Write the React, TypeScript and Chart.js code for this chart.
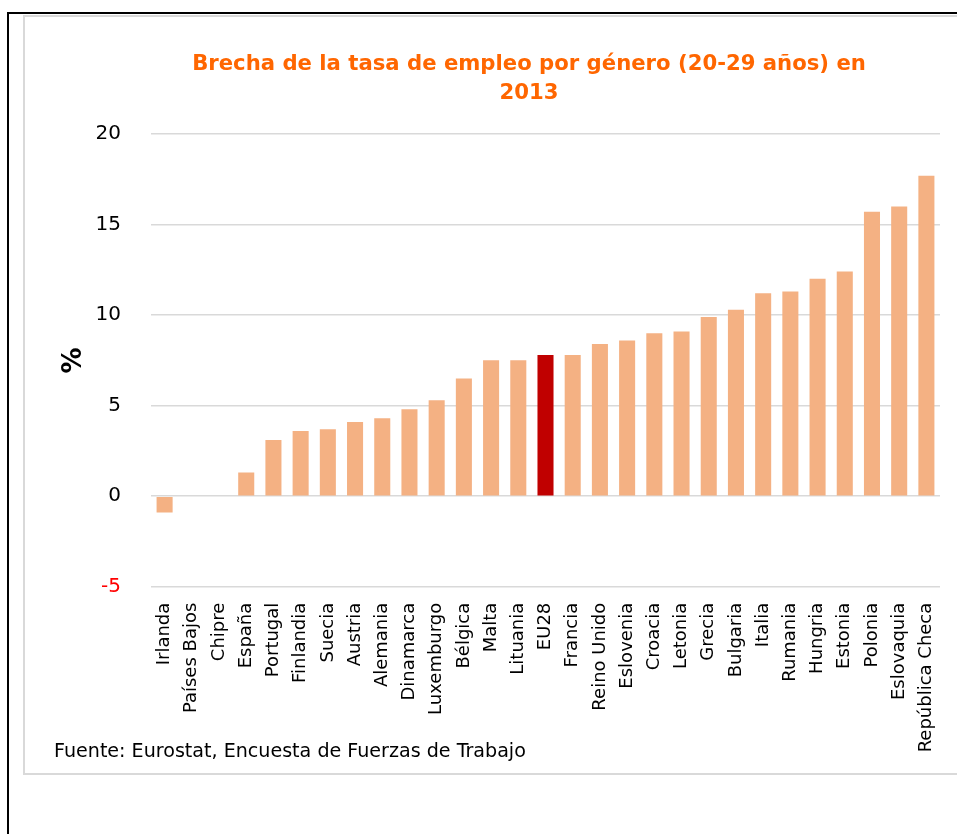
import React, { useEffect, useRef } from "react";
import { Chart, registerables } from "chart.js";

Chart.register(...registerables);

const categories = [
  "Irlanda", "Países Bajos", "Chipre", "España", "Portugal", "Finlandia", "Suecia",
  "Austria", "Alemania", "Dinamarca", "Luxemburgo", "Bélgica", "Malta", "Lituania",
  "EU28", "Francia", "Reino Unido", "Eslovenia", "Croacia", "Letonia", "Grecia",
  "Bulgaria", "Italia", "Rumania", "Hungria", "Estonia", "Polonia", "Eslovaquia",
  "República Checa",
];
const values = [
  -0.9, 0, 0, 1.3, 3.1, 3.6, 3.7,
  4.1, 4.3, 4.8, 5.3, 6.5, 7.5, 7.5,
  7.8, 7.8, 8.4, 8.6, 9.0, 9.1, 9.9,
  10.3, 11.2, 11.3, 12.0, 12.4, 15.7, 16.0,
  17.7,
];
const highlightCategory = "EU28";
const yTicks = [-5, 0, 5, 10, 15, 20];
const titleLines = ["Brecha de la tasa de empleo por género (20-29 años) en", "2013"];
const yAxisTitle = "%";
const sourceNote = "Fuente: Eurostat, Encuesta de Fuerzas de Trabajo";

const FONT = "'DejaVu Sans', Verdana, sans-serif";
const BAR = "#F4B183";
const BAR_HI = "#C00000";

export default function App() {
  const ref = useRef<HTMLCanvasElement | null>(null);

  useEffect(() => {
    if (!ref.current) return;
    const chart = new Chart(ref.current, {
      type: "bar",
      data: {
        labels: categories,
        datasets: [
          {
            data: values,
            backgroundColor: categories.map((c) => (c === highlightCategory ? BAR_HI : BAR)),
            categoryPercentage: 1,
            barPercentage: 0.59,
            borderWidth: 0,
          },
        ],
      },
      options: {
        responsive: false,
        animation: false,
        devicePixelRatio: 1,
        layout: { padding: { left: 0, right: 0, top: 0, bottom: 0 } },
        plugins: {
          legend: { display: false },
          tooltip: { enabled: false },
          title: {
            display: true,
            text: titleLines,
            color: "#FF6600",
            font: { family: FONT, size: 21.2, weight: "bold", lineHeight: 29 / 21.2 },
            padding: { top: 32.5, bottom: 26.5 },
          },
        },
        scales: {
          x: {
            grid: { display: false },
            border: { display: false },
            ticks: {
              autoSkip: false,
              minRotation: 90,
              maxRotation: 90,
              padding: 8,
              color: "#000000",
              font: { family: FONT, size: 18 },
            },
            afterFit: (s: any) => {
              s.height = 186.3;
            },
          },
          y: {
            min: yTicks[0],
            max: yTicks[yTicks.length - 1],
            afterBuildTicks: (s: any) => {
              s.ticks = yTicks.map((v) => ({ value: v }));
            },
            grid: { color: "#D9D9D9", lineWidth: 1.5, drawTicks: false },
            border: { display: false },
            ticks: {
              padding: 30,
              color: (ctx: any) => (ctx.tick && ctx.tick.value < 0 ? "#FF0000" : "#000000"),
              font: { family: FONT, size: 20 },
            },
            title: {
              display: true,
              text: yAxisTitle,
              color: "#000000",
              font: { family: FONT, size: 26, weight: "bold", lineHeight: 1.2 },
              padding: { top: 34, bottom: 0 },
            },
            afterFit: (s: any) => {
              s.width = 126;
            },
          },
          yRight: {
            type: "linear",
            position: "right",
            display: true,
            grid: { display: false },
            border: { display: false },
            ticks: { display: false },
            afterFit: (s: any) => {
              s.width = 93;
            },
          },
        },
      } as any,
    });
    return () => chart.destroy();
  }, []);

  return (
    <div
      style={{
        position: "absolute",
        left: 0,
        top: 0,
        width: 957,
        height: 834,
        overflow: "hidden",
        background: "#FFFFFF",
      }}
    >
      <div
        style={{
          position: "absolute",
          left: 7,
          top: 12,
          width: 1200,
          height: 1200,
          border: "2px solid #000000",
        }}
      />
      <div
        style={{
          position: "absolute",
          left: 23,
          top: 15,
          width: 1200,
          height: 756,
          border: "2px solid #D9D9D9",
          background: "#FFFFFF",
        }}
      />
      <canvas
        ref={ref}
        width={1008}
        height={756}
        style={{ position: "absolute", left: 25, top: 17, width: 1008, height: 756 }}
      />
      <div
        style={{
          position: "absolute",
          left: 54,
          top: 741,
          fontFamily: FONT,
          fontSize: "19.1px",
          lineHeight: 1,
          color: "#000000",
          whiteSpace: "nowrap",
        }}
      >
        {sourceNote}
      </div>
    </div>
  );
}
